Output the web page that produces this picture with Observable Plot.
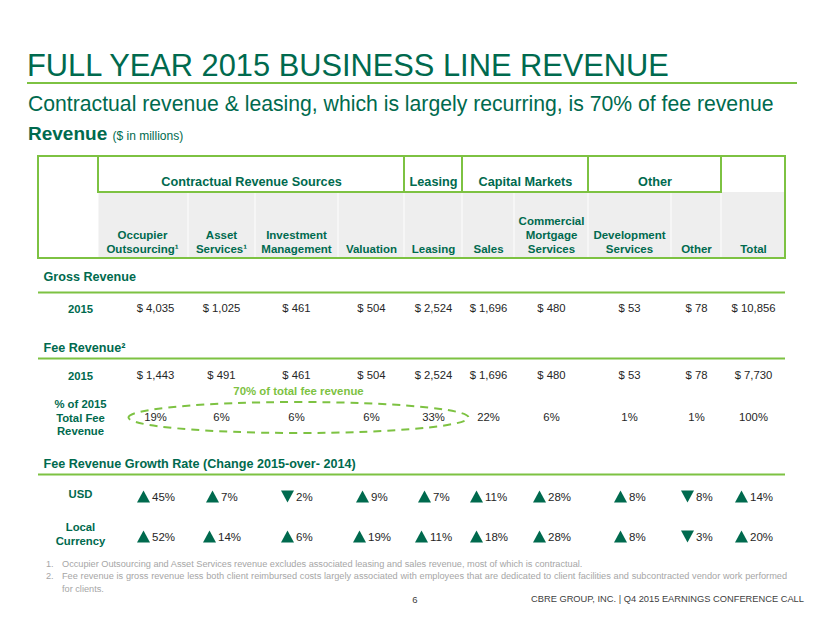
<!DOCTYPE html>
<html>
<head>
<meta charset="utf-8">
<script src="https://cdn.jsdelivr.net/npm/d3@7"></script>
<script src="https://cdn.jsdelivr.net/npm/@observablehq/plot@0.6"></script>
<style>
  body { margin: 0; background: #fff; font-family: "Liberation Sans", Arial, sans-serif; }
  #page { position: relative; width: 830px; height: 623px; overflow: hidden; background: #fff; }
  #chart { position: absolute; left: 0; top: 0; }
  .abs { position: absolute; white-space: nowrap; }
  #title { left: 27px; top: 50px; font-size: 30.8px; line-height: 31px; color: #006A4E; }
  #titleRule { left: 27px; top: 82px; width: 770px; height: 2px; background: #7DC242; }
  #subtitle { left: 28px; top: 93px; font-size: 21.2px; line-height: 21.2px; color: #006A4E; }
  #revenue { left: 28px; top: 124px; font-size: 19px; line-height: 19px; color: #006A4E; font-weight: bold; }
  #revenue span { font-size: 12px; font-weight: normal; }
  .fn { font-size: 9.2px; line-height: 12.5px; color: #A6A6A6; }
  .fnnum { left: 46px; }
  .fntext { left: 62px; width: 725px; white-space: normal; text-align: justify; }
  #pagenum { left: 410px; top: 595px; font-size: 9.5px; line-height: 9.5px; color: #404040; width: 10px; text-align: center; }
  #footer { left: 531px; top: 595px; font-size: 9.3px; line-height: 9.5px; color: #404040; }
</style>
</head>
<body>
<div id="page">
  <div id="chart"></div>
  <div class="abs" id="title"></div>
  <div class="abs" id="titleRule"></div>
  <div class="abs" id="subtitle"></div>
  <div class="abs" id="revenue"></div>
  <div class="abs fn fnnum" style="top:557.5px">1.</div>
  <div class="abs fn fntext" id="fn1" style="top:557.5px"></div>
  <div class="abs fn fnnum" style="top:570px">2.</div>
  <div class="abs fn fntext" id="fn2" style="top:570px"></div>
  <div class="abs" id="pagenum"></div>
  <div class="abs" id="footer"></div>
</div>
<script>
// ---------------- DATA ----------------
const titleText = "FULL YEAR 2015 BUSINESS LINE REVENUE";
const subtitleText = "Contractual revenue & leasing, which is largely recurring, is 70% of fee revenue";
const unitLabel = ["Revenue", "($ in millions)"];
const groups = ["Contractual Revenue Sources", "Leasing", "Capital Markets", "Other"];
const businessLines = ["Occupier\nOutsourcing¹", "Asset\nServices¹", "Investment\nManagement", "Valuation", "Leasing", "Sales", "Commercial\nMortgage\nServices", "Development\nServices", "Other", "Total"];
const lineGroupIndex = [0, 0, 0, 0, 1, 2, 2, 3, 3, null];
const grossRevenue2015 = [4035, 1025, 461, 504, 2524, 1696, 480, 53, 78, 10856];
const feeRevenue2015 = [1443, 491, 461, 504, 2524, 1696, 480, 53, 78, 7730];
const pctOfTotalFee = [19, 6, 6, 6, 33, 22, 6, 1, 1, 100];
const growthUSD = [45, 7, -2, 9, 7, 11, 28, 8, -8, 14];
const growthLocal = [52, 14, 6, 19, 11, 18, 28, 8, -3, 20];
const sectionLabels = ["Gross Revenue", "Fee Revenue²", "Fee Revenue Growth Rate (Change 2015-over- 2014)"];
const rowLabels = ["2015", "2015", "% of 2015\nTotal Fee\nRevenue", "USD", "Local\nCurrency"];
const highlightNote = "70% of total fee revenue";
const footnotes = [
  "Occupier Outsourcing and Asset Services revenue excludes associated leasing and sales revenue, most of which is contractual.",
  "Fee revenue is gross revenue less both client reimbursed costs largely associated with employees that are dedicated to client facilities and subcontracted vendor work performed for clients."
];
const pageNumber = "6";
const footerText = "CBRE GROUP, INC. | Q4 2015 EARNINGS CONFERENCE CALL";

// ---------------- LAYOUT (scale ranges) ----------------
const layoutX = {
  sectionLabel: 43, rowLabel: 80,
  e0: 38, e1: 98, e2: 188, e3: 255, e4: 338, e5: 404, e6: 462, e7: 514, e8: 588, e9: 671, e10: 721, e11: 785,
  c0: 155, c1: 221, c2: 296, c3: 371, c4: 433, c5: 488, c6: 551, c7: 629, c8: 696, c9: 753,
  g0: 251, g1: 433, g2: 525, g3: 654.5
};
const layoutY = {
  top: 156, groupBottom: 192, headerBottom: 258, group: 181, header: 252.5,
  grossLabel: 276, grossRule: 292, gross: 308,
  feeLabel: 347, feeRule: 358, fee: 375, note: 391, pct: 417,
  growthLabel: 463, growthRule: 474, usd: 497, local: 537
};

const DARK = "#006A4E", LIGHT = "#7DC242", TEXT = "#262626", GRAY = "#EEEEEE";
const FONT = "'Liberation Sans', Arial, sans-serif";

// ---------------- HTML text ----------------
document.getElementById("title").textContent = titleText;
document.getElementById("subtitle").textContent = subtitleText;
document.getElementById("revenue").innerHTML = unitLabel[0] + " <span>" + unitLabel[1] + "</span>";
document.getElementById("fn1").textContent = footnotes[0];
document.getElementById("fn2").textContent = footnotes[1];
document.getElementById("pagenum").textContent = pageNumber;
document.getElementById("footer").textContent = footerText;

// ---------------- derived tables ----------------
const colKeys = businessLines.map((_, i) => "c" + i);
const headers = businessLines.map((label, i) => ({col: colKeys[i], label}));
const groupRows = groups.map((label, g) => {
  const idx = lineGroupIndex.map((v, i) => v === g ? i : -1).filter(i => i >= 0);
  return {key: "g" + g, label, x1: "e" + (idx[0] + 1), x2: "e" + (idx[idx.length - 1] + 2)};
});
const cells = colKeys.map((c, i) => ({x1: "e" + (i + 1), x2: "e" + (i + 2)}));
const fmt = d3.format(",");
const money = [
  ...grossRevenue2015.map((v, i) => ({row: "gross", col: colKeys[i], text: "$ " + fmt(v)})),
  ...feeRevenue2015.map((v, i) => ({row: "fee", col: colKeys[i], text: "$ " + fmt(v)})),
  ...pctOfTotalFee.map((v, i) => ({row: "pct", col: colKeys[i], text: v + "%"}))
];
const growth = [
  ...growthUSD.map((v, i) => ({row: "usd", col: colKeys[i], v})),
  ...growthLocal.map((v, i) => ({row: "local", col: colKeys[i], v}))
];
const digits = d => String(Math.abs(d.v)).length;
const sections = [
  {row: "grossLabel", label: sectionLabels[0]},
  {row: "feeLabel", label: sectionLabels[1]},
  {row: "growthLabel", label: sectionLabels[2]}
];
const rowLabelData = [
  {row: "gross", label: rowLabels[0]},
  {row: "fee", label: rowLabels[1]},
  {row: "pct", label: rowLabels[2]},
  {row: "usd", label: rowLabels[3]},
  {row: "local", label: rowLabels[4]}
];

// custom symbols
const upTri = {draw(ctx) { ctx.moveTo(0, -7); ctx.lineTo(6.5, 5); ctx.lineTo(-6.5, 5); ctx.closePath(); }};
const downTri = {draw(ctx) { ctx.moveTo(-6.5, -7); ctx.lineTo(6.5, -7); ctx.lineTo(0, 5); ctx.closePath(); }};
const ellipse = {draw(ctx) {
  const rx = 170, ry = 15.5, k = 0.5523;
  ctx.moveTo(-rx, 0);
  ctx.bezierCurveTo(-rx, -ry * k, -rx * k, -ry, 0, -ry);
  ctx.bezierCurveTo(rx * k, -ry, rx, -ry * k, rx, 0);
  ctx.bezierCurveTo(rx, ry * k, rx * k, ry, 0, ry);
  ctx.bezierCurveTo(-rx * k, ry, -rx, ry * k, -rx, 0);
  ctx.closePath();
}};

const growthMarks = [];
for (const [n, adx] of [[1, -9], [2, -12]]) {
  growthMarks.push(
    Plot.dot(growth.filter(d => digits(d) === n && d.v >= 0), {x: "col", y: "row", symbol: upTri, fill: DARK, stroke: null, dx: adx}),
    Plot.dot(growth.filter(d => digits(d) === n && d.v < 0), {x: "col", y: "row", symbol: downTri, fill: DARK, stroke: null, dx: adx}),
    Plot.text(growth.filter(d => digits(d) === n), {x: "col", y: "row", text: d => Math.abs(d.v) + "%", textAnchor: "start", dx: adx + 8.5, fill: TEXT, fontSize: 11.5})
  );
}

const chart = Plot.plot({
  width: 830,
  height: 623,
  margin: 0,
  x: {type: "ordinal", domain: Object.keys(layoutX), range: Object.values(layoutX), axis: null},
  y: {type: "ordinal", domain: Object.keys(layoutY), range: Object.values(layoutY), axis: null},
  style: {fontFamily: FONT, background: "transparent", overflow: "visible"},
  marks: [
    // gray header cells
    Plot.rect(cells, {x1: "x1", x2: "x2", y1: () => "groupBottom", y2: () => "headerBottom", fill: GRAY, insetLeft: 0.5, insetRight: 0.5}),
    // outer box
    Plot.rect([0], {x1: () => "e0", x2: () => "e11", y1: () => "top", y2: () => "headerBottom", fill: "none", stroke: LIGHT, strokeWidth: 2}),
    // group boxes
    Plot.rect(groupRows, {x1: "x1", x2: "x2", y1: () => "top", y2: () => "groupBottom", fill: "none", stroke: LIGHT, strokeWidth: 2}),
    Plot.text(groupRows, {x: "key", y: () => "group", text: "label", fill: DARK, fontWeight: "bold", fontSize: 12.7}),
    // column headers
    Plot.text(headers.filter((d, i) => i === 0), {x: "col", y: () => "header", text: "label", lineAnchor: "bottom", lineHeight: 1.22, fill: DARK, fontWeight: "bold", fontSize: 11.5, dx: -13}),
    Plot.text(headers.filter((d, i) => i > 0), {x: "col", y: () => "header", text: "label", lineAnchor: "bottom", lineHeight: 1.22, fill: DARK, fontWeight: "bold", fontSize: 11.5}),
    // section labels and rules
    Plot.text(sections, {x: () => "sectionLabel", y: "row", text: "label", textAnchor: "start", fill: DARK, fontWeight: "bold", fontSize: 12.6}),
    Plot.ruleY(["grossRule", "feeRule", "growthRule"], {y: d => d, x1: () => "e0", x2: () => "e11", stroke: LIGHT, strokeWidth: 2}),
    // row labels
    Plot.text(rowLabelData.filter(d => d.row !== "usd" && d.row !== "local"), {x: () => "rowLabel", y: "row", text: "label", lineHeight: 1.2, fill: DARK, fontWeight: "bold", fontSize: 11.3}),
    Plot.text(rowLabelData.filter(d => d.row === "usd"), {x: () => "rowLabel", y: "row", text: "label", dy: -3, fill: DARK, fontWeight: "bold", fontSize: 11.3}),
    Plot.text(rowLabelData.filter(d => d.row === "local"), {x: () => "rowLabel", y: "row", text: "label", dy: -4, lineHeight: 1.24, fill: DARK, fontWeight: "bold", fontSize: 11.3}),
    // values
    Plot.text(money, {x: "col", y: "row", text: "text", fill: TEXT, fontSize: 11.3}),
    // highlight ellipse + note
    Plot.dot([0], {x: () => "c2", y: () => "pct", symbol: ellipse, fill: "none", stroke: LIGHT, strokeWidth: 2, strokeDasharray: "8,6", dx: 2}),
    Plot.text([highlightNote], {x: () => "c2", y: () => "note", text: d => d, fill: LIGHT, fontWeight: "bold", fontSize: 11.4, dx: 2}),
    // growth arrows and values
    ...growthMarks
  ]
});
document.getElementById("chart").appendChild(chart);
</script>
</body>
</html>
